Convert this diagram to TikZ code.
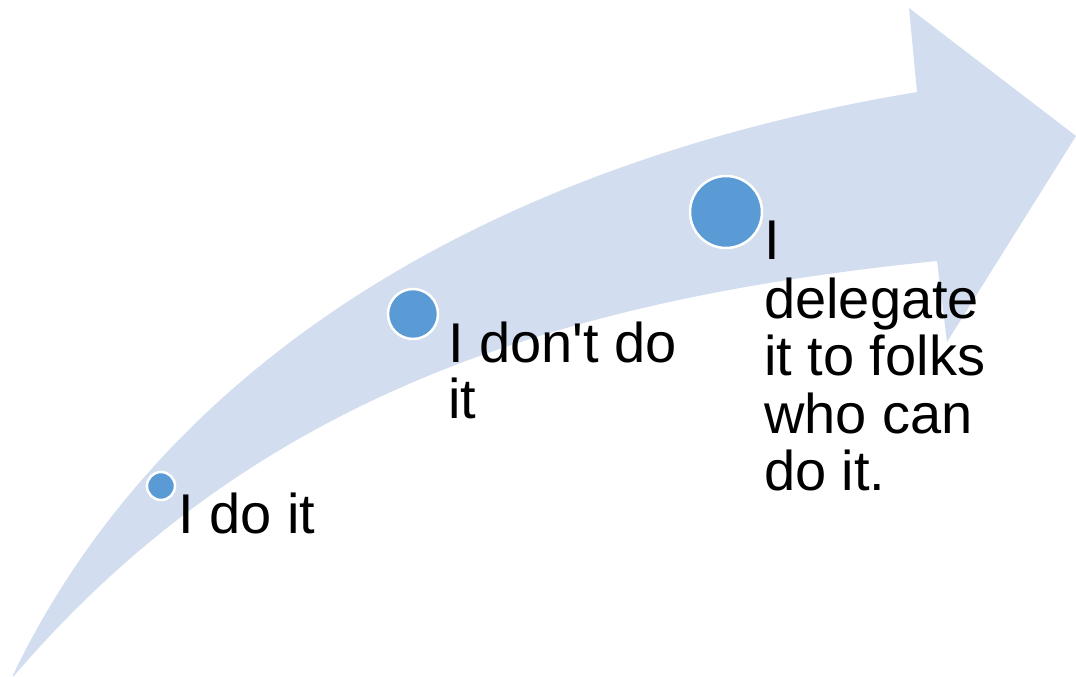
\documentclass[tikz,border=0pt]{standalone}
\usepackage{fontspec}
\setmainfont{Liberation Sans}[Ligatures=ResetAll]
\definecolor{bandfill}{RGB}{210,222,239}
\definecolor{dotfill}{RGB}{91,155,213}
\begin{document}
\begin{tikzpicture}[x=1pt,y=-1pt,
  dot/.style={circle,fill=dotfill,draw=white,line width=2.5pt,inner sep=0pt,minimum size=#1},
  txt/.style={anchor=base west,inner sep=0pt,font=\fontsize{56}{58}\selectfont}]
\useasboundingbox (0,0) rectangle (1076,677);
% curved arrow
\fill[bandfill] (13,675) .. controls (150,390) and (450,170) .. (917,92)
  -- (909,8) -- (1076,136) -- (947,342) -- (937,261)
  .. controls (550,300) and (250,400) .. (13,677) -- cycle;
% dots
\node[dot=28pt] (d1) at (161,486) {};
\node[dot=50pt] (d2) at (413,314) {};
\node[dot=72pt] (d3) at (726,212) {};
% texts
\node[txt] (t1) at (178,533) {I do it};
\node[txt] (t2a) at (448,362) {I don\textquotesingle t do};
\node[txt] (t2b) at (448,418) {it};
\node[txt] (t3a) at (764,259) {I};
\node[txt] (t3b) at (764,318) {delegate};
\node[txt] (t3c) at (764,375) {it to folks};
\node[txt] (t3d) at (764,433) {who can};
\node[txt] (t3e) at (764,490) {do it.};
\end{tikzpicture}
\end{document}
